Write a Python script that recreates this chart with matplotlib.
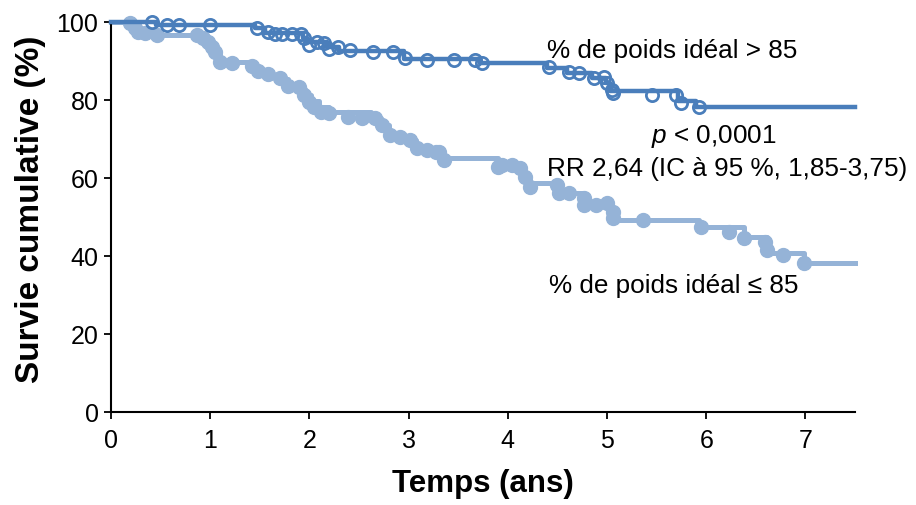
import matplotlib
matplotlib.use("Agg")
import matplotlib.pyplot as plt

# Kaplan-Meier steps, % de poids idéal > 85
haut_t = [0, 0.45, 1.45, 1.55, 1.94, 1.98, 2.18, 2.3, 2.95, 3.72, 4.4, 4.6,
          4.85, 4.99, 5.03, 5.72, 5.9, 7.5]
haut_s = [100, 99.2, 98.4, 97.2, 96.0, 94.9, 93.6, 92.6, 90.6, 89.6, 88.3, 87.0,
          85.7, 84.3, 82.2, 79.8, 78.3, 78.3]
# censures (cercles vides)
haut_ct = [0.41, 0.56, 0.69, 1.0, 1.47, 1.58, 1.65, 1.72, 1.82, 1.92, 1.95, 2.0,
           2.08, 2.15, 2.2, 2.29, 2.41, 2.64, 2.84, 2.96, 3.19, 3.46, 3.67, 3.74,
           4.42, 4.62, 4.72, 4.87, 4.97, 5.0, 5.05, 5.06, 5.45, 5.7, 5.75, 5.93]
haut_cs = [100, 99.2, 99.2, 99.2, 98.5, 97.4, 96.9, 96.9, 96.9, 96.9, 95.9, 94.1,
           94.9, 94.6, 93.0, 93.6, 92.8, 92.3, 92.3, 90.8, 90.3, 90.3, 90.3, 89.5,
           88.5, 87.2, 86.9, 85.6, 85.9, 84.4, 82.6, 81.8, 81.3, 81.3, 79.2, 78.2]

# % de poids idéal <= 85
bas_t = [0, 0.18, 0.2, 0.27, 0.45, 0.87, 0.93, 0.98, 1.02, 1.1, 1.42, 1.48, 1.58,
         1.7, 1.78, 1.88, 1.96, 2.02, 2.1, 2.2, 2.62, 2.72, 2.8, 2.9, 3.0, 3.07,
         3.17, 3.35, 3.9, 4.12, 4.17, 4.22, 4.5, 4.75, 4.78, 5.05, 5.93, 6.38,
         6.61, 6.99, 7.5]
bas_s = [100, 99.2, 98.7, 97.4, 96.7, 96.0, 95.0, 93.6, 92.3, 89.7, 88.7, 87.4,
         86.4, 85.4, 83.5, 82.8, 81.3, 79.7, 78.2, 76.9, 75.4, 73.6, 71.3, 70.5,
         69.7, 67.9, 67.2, 65.1, 63.3, 62.3, 60.3, 58.7, 56.2, 54.6, 53.3, 49.2,
         47.4, 44.9, 40.8, 38.2, 38.2]
# censures (cercles pleins)
bas_ct = [0.19, 0.24, 0.27, 0.34, 0.46, 0.87, 0.93, 0.98, 1.02, 1.05, 1.1, 1.22,
          1.42, 1.48, 1.58, 1.7, 1.78, 1.9, 1.95, 2.0, 2.05, 2.12, 2.2, 2.39,
          2.53, 2.66, 2.73, 2.81, 2.91, 3.01, 3.08, 3.19, 3.28, 3.31, 3.36,
          3.9, 3.94, 4.04, 4.12, 4.17, 4.22, 4.5, 4.52, 4.62, 4.77, 4.77, 4.89,
          5.0, 5.06, 5.06, 5.36, 5.95, 6.23, 6.38, 6.59, 6.61, 6.77, 6.99]
bas_cs = [99.7, 98.5, 97.4, 97.2, 96.7, 96.7, 95.9, 94.9, 93.6, 92.3, 89.7, 89.5,
          88.7, 87.4, 86.7, 85.6, 83.5, 83.3, 81.3, 79.5, 78.2, 76.9, 76.7, 75.6,
          75.4, 75.4, 73.6, 71.0, 70.5, 69.7, 67.7, 67.2, 66.7, 66.7, 64.6,
          62.8, 63.3, 63.3, 62.6, 60.3, 57.7, 58.2, 56.2, 56.2, 54.9, 53.1, 53.1,
          53.6, 51.3, 49.7, 49.2, 47.4, 46.2, 44.6, 43.6, 41.5, 40.3, 38.2]

x_ticks = [0, 1, 2, 3, 4, 5, 6, 7]
y_ticks = [0, 20, 40, 60, 80, 100]

fonce = "#4a7ebb"
clair = "#95b3d7"
police = ["Liberation Sans", "DejaVu Sans"]

plt.rcParams["mathtext.fontset"] = "custom"
plt.rcParams["mathtext.it"] = "Liberation Sans:italic"
plt.rcParams["mathtext.rm"] = "Liberation Sans"

fig = plt.figure(figsize=(9.16, 5.05), dpi=100)
ax = fig.add_axes([111 / 916, 93 / 505, 744 / 916, 390 / 505])

ax.plot(bas_t, bas_s, drawstyle="steps-post", color=clair, lw=3.6,
        clip_on=False, zorder=2)
ax.plot(bas_ct, bas_cs, "o", color=clair, ms=10, mec=clair, clip_on=False,
        zorder=2)
ax.plot(haut_t, haut_s, drawstyle="steps-post", color=fonce, lw=3.2,
        clip_on=False, zorder=3)
ax.plot(haut_ct, haut_cs, "o", mfc="none", mec=fonce, mew=2.0, ms=8.8,
        clip_on=False, zorder=3)

ax.set_xlim(0, 7.5)
ax.set_ylim(0, 100)
ax.set_xticks(x_ticks)
ax.set_yticks(y_ticks)
for s in ["top", "right"]:
    ax.spines[s].set_visible(False)
for s in ["left", "bottom"]:
    ax.spines[s].set_linewidth(1.5)
ax.tick_params(direction="out", length=5, width=1.3)
ax.tick_params(axis="x", pad=7)
ax.tick_params(axis="y", pad=4)
for lab in ax.get_xticklabels() + ax.get_yticklabels():
    lab.set_family(police)
    lab.set_fontsize(18)

ax.set_xlabel("Temps (ans)", family=police, fontsize=22.5, fontweight="bold",
              labelpad=12)
ax.set_ylabel("Survie cumulative (%)", family=police, fontsize=24,
              fontweight="bold")
ax.yaxis.set_label_coords(-0.088, 0.52)

ax.text(4.40, 92.6, "% de poids idéal > 85", family=police, fontsize=18.8,
        ha="left", va="center")
ax.text(6.08, 70.6, "$\\it{p}$ < 0,0001", family=police, fontsize=18.8,
        ha="center", va="center")
ax.text(4.40, 62.4, "RR 2,64 (IC à 95 %, 1,85-3,75)", family=police,
        fontsize=18.8, ha="left", va="center")
ax.text(4.42, 32.4, "% de poids idéal ≤ 85", family=police, fontsize=18.8,
        ha="left", va="center")

fig.savefig("out.png", dpi=100)
